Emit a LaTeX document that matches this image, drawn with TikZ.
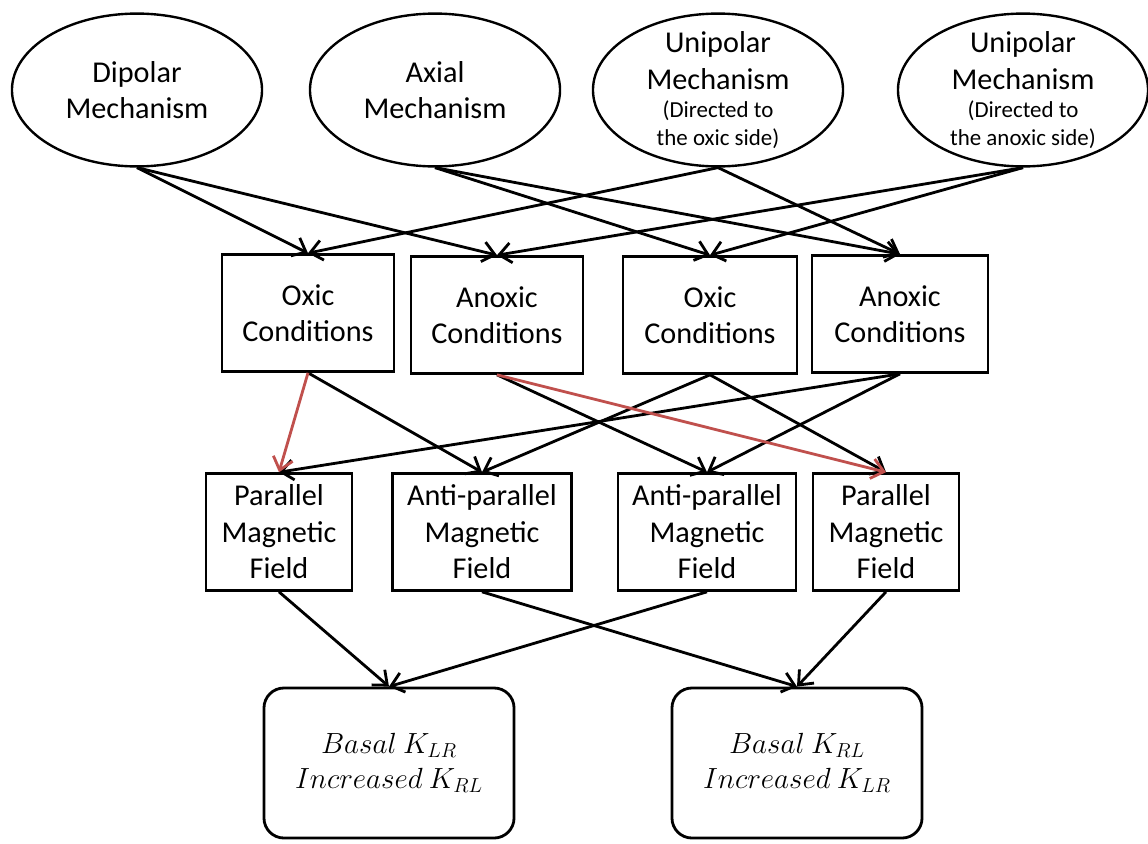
\documentclass[tikz,border=0pt]{standalone}
\usepackage{fontspec}
\setmainfont{Carlito}
\usetikzlibrary{shapes.geometric,arrows.meta}
\definecolor{arrred}{RGB}{192,80,77}
\newcommand{\smallfnt}{\fontsize{16.3}{20}\selectfont}
\begin{document}
\begin{tikzpicture}[x=0.025cm,y=-0.025cm,
  font=\fontsize{21.5}{26}\selectfont,
  mech/.style={draw,ellipse,line width=1.7pt,minimum width=6.25cm,minimum height=3.82cm,align=center,inner sep=-0.5cm},
  cond/.style={draw,line width=2pt,minimum height=2.92cm,align=center,inner sep=0pt},
  res/.style={draw,rounded corners=0.5cm,line width=2pt,minimum width=6.25cm,minimum height=3.75cm,align=center,font=\fontsize{20}{25}\selectfont},
  arr/.style={-{Straight Barb[length=3mm,width=5mm]},line width=2pt},
  redarr/.style={arr,draw=arrred}]
\useasboundingbox (0,0) rectangle (1148,843);
% mechanisms
\node[mech] (dip) at (137,90) {Dipolar\\Mechanism};
\node[mech] (ax) at (435,90) {Axial\\Mechanism};
\node[mech] (uox) at (718,90) {Unipolar\\Mechanism\\[-6pt]\smallfnt(Directed to\\[-6pt]\smallfnt the oxic side)};
\node[mech] (uan) at (1023,90) {Unipolar\\Mechanism\\[-6pt]\smallfnt(Directed to\\[-6pt]\smallfnt the anoxic side)};
% conditions
\node[cond,minimum width=4.3cm] (ox1) at (308,313) {Oxic\\Conditions};
\node[cond,minimum width=4.3cm] (an1) at (497,315) {Anoxic\\Conditions};
\node[cond,minimum width=4.35cm] (ox2) at (710,315) {Oxic\\Conditions};
\node[cond,minimum width=4.4cm] (an2) at (900,314) {Anoxic\\Conditions};
% fields
\node[cond,minimum width=3.65cm] (par1) at (279,532) {Parallel\\Magnetic\\Field};
\node[cond,minimum width=4.48cm] (anti1) at (482,532) {Anti-parallel\\Magnetic\\Field};
\node[cond,minimum width=4.45cm] (anti2) at (707,532) {Anti-parallel\\Magnetic\\Field};
\node[cond,minimum width=3.65cm] (par2) at (886,532) {Parallel\\Magnetic\\Field};
% results
\node[res] (res1) at (389,763) {$Basal\ K_{LR}$\\$Increased\ K_{RL}$};
\node[res] (res2) at (797,763) {$Basal\ K_{RL}$\\$Increased\ K_{LR}$};
% mechanism -> conditions
\draw[arr] (dip.south) -- (ox1.north);
\draw[arr] (dip.south) -- (an1.north);
\draw[arr] (ax.south) -- (ox2.north);
\draw[arr] (ax.south) -- (an2.north);
\draw[arr] (uox.south) -- (ox1.north);
\draw[arr] (uox.south) -- (an2.north);
\draw[arr] (uan.south) -- (an1.north);
\draw[arr] (uan.south) -- (ox2.north);
% conditions -> fields
\draw[arr] (ox1.south) -- (anti1.north);
\draw[arr] (an1.south) -- (anti2.north);
\draw[arr] (ox2.south) -- (anti1.north);
\draw[arr] (ox2.south) -- (par2.north);
\draw[arr] (an2.south) -- (par1.north);
\draw[arr] (an2.south) -- (anti2.north);
\draw[redarr] (ox1.south) -- (par1.north);
\draw[redarr] (an1.south) -- (par2.north);
% fields -> results
\draw[arr] (par1.south) -- (res1.north);
\draw[arr] (anti2.south) -- (res1.north);
\draw[arr] (anti1.south) -- (res2.north);
\draw[arr] (par2.south) -- (res2.north);
\end{tikzpicture}
\end{document}
